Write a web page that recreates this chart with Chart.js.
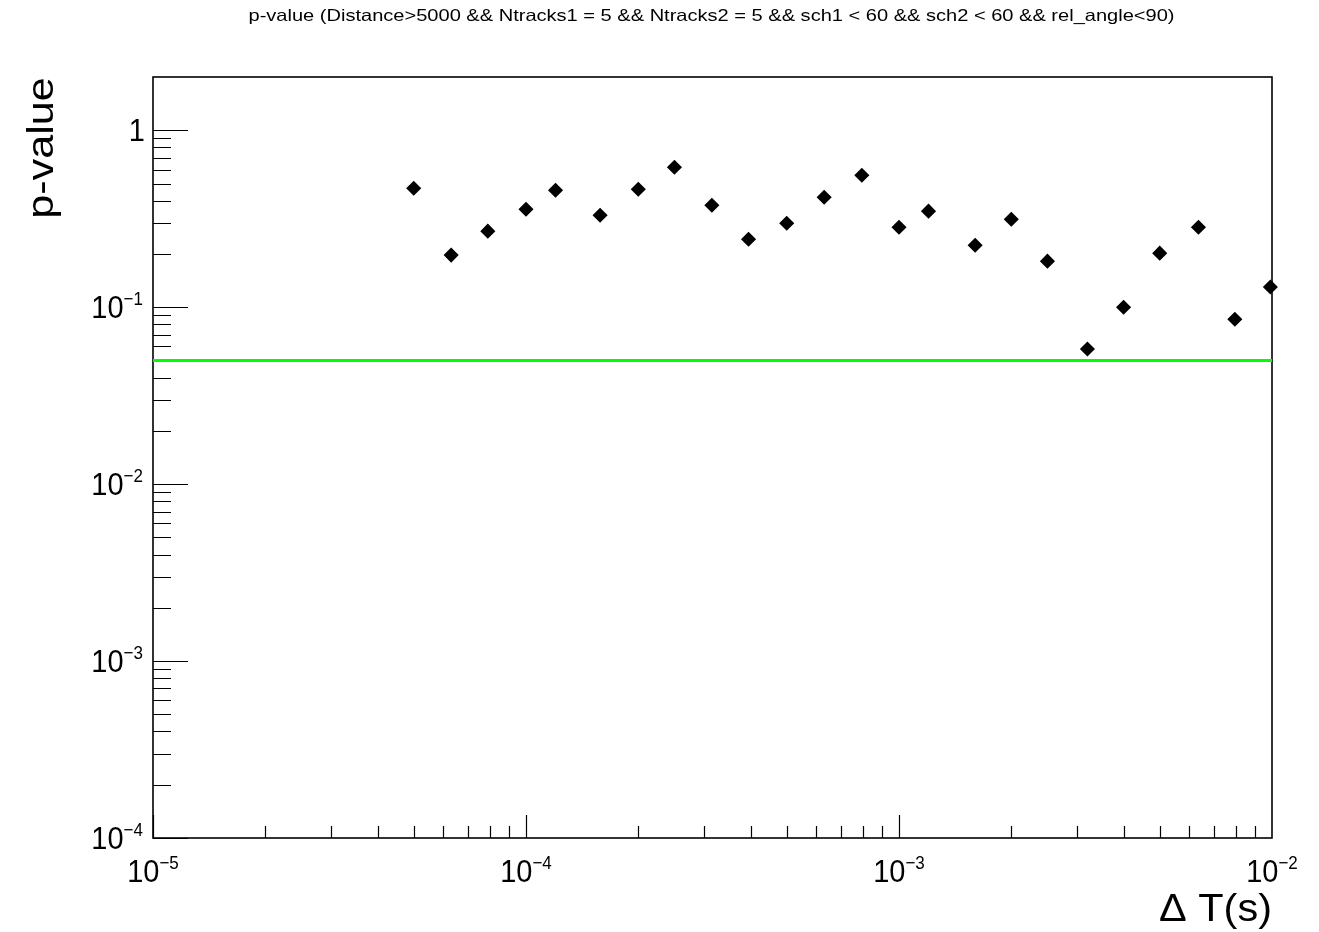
<!DOCTYPE html>
<html>
<head>
<meta charset="utf-8">
<script src="https://cdn.jsdelivr.net/npm/chart.js@4/dist/chart.umd.min.js"></script>
<style>
html,body{margin:0;padding:0;background:#fff;}
canvas{display:block;}
</style>
</head>
<body>
<canvas id="c" width="1319" height="932"></canvas>
<script>
// ---- data ----
const deltaT = [5e-5, 6.3e-5, 7.9e-5, 1e-4, 1.2e-4, 1.58e-4, 2e-4, 2.5e-4, 3.15e-4, 3.95e-4, 5e-4, 6.3e-4, 7.95e-4, 1e-3, 1.2e-3, 1.6e-3, 2e-3, 2.5e-3, 3.2e-3, 4e-3, 5e-3, 6.35e-3, 7.95e-3, 9.9e-3];
const pValues = [0.47, 0.197, 0.269, 0.358, 0.458, 0.331, 0.464, 0.618, 0.377, 0.242, 0.298, 0.418, 0.557, 0.283, 0.349, 0.224, 0.314, 0.182, 0.058, 0.100, 0.202, 0.283, 0.0855, 0.130];
const threshold = 0.05;
const xRange = [1e-5, 1e-2];
const yRange = [1e-4, 2];
const xMajorExps = [-5, -4, -3, -2];
const yMajorExps = [-4, -3, -2, -1, 0];
const titleText = "p-value (Distance>5000 && Ntracks1 = 5 && Ntracks2 = 5 && sch1 < 60 && sch2 < 60 && rel_angle<90)";
const xTitle = "\u0394 T(s)";
const yTitle = "p-value";

const FONT = '"Liberation Sans", Arial, Helvetica, sans-serif';
const SY = 1.1;

function stretchedText(ctx, text, x, y, size, align, sy) {
  ctx.save();
  ctx.font = size + 'px ' + FONT;
  ctx.textAlign = align;
  ctx.textBaseline = 'alphabetic';
  ctx.translate(x, y);
  ctx.scale(1, sy);
  ctx.fillText(text, 0, 0);
  ctx.restore();
}

function powLabel(ctx, exp, anchorX, baseY, align) {
  const mainSize = 29, supSize = 17;
  ctx.save();
  if (exp === 0) {
    ctx.font = mainSize + 'px ' + FONT;
    const w = ctx.measureText('1').width;
    let x0 = align === 'right' ? anchorX - w : anchorX - w / 2;
    stretchedText(ctx, '1', x0 + 2, baseY, mainSize, 'left', SY);
    ctx.restore();
    return;
  }
  ctx.font = mainSize + 'px ' + FONT;
  const wMain = ctx.measureText('10').width;
  const sup = '\u2212' + Math.abs(exp);
  ctx.font = supSize + 'px ' + FONT;
  const wSup = ctx.measureText(sup).width;
  const total = wMain + wSup;
  let x0 = align === 'right' ? anchorX - total : anchorX - total / 2;
  stretchedText(ctx, '10', x0, baseY, mainSize, 'left', SY);
  stretchedText(ctx, sup, x0 + wMain, baseY - 13, supSize, 'left', SY);
  ctx.restore();
}

const rootStyle = {
  id: 'rootStyle',
  beforeDatasetsDraw(chart) {
    const ctx = chart.ctx;
    const a = chart.chartArea;
    const xs = chart.scales.x, ys = chart.scales.y;
    ctx.save();
    ctx.strokeStyle = '#000';
    ctx.lineWidth = 1.2;
    ctx.beginPath();
    for (let e = -5; e <= -3; e++) {
      for (let m = 1; m <= 9; m++) {
        const v = m * Math.pow(10, e);
        if (v < xRange[0] || v > xRange[1]) continue;
        const px = Math.round(xs.getPixelForValue(v)) + 0.5;
        const len = m === 1 ? 23 : 12;
        ctx.moveTo(px, a.bottom);
        ctx.lineTo(px, a.bottom - len);
      }
    }
    for (let e = -4; e <= 0; e++) {
      for (let m = 1; m <= 9; m++) {
        const v = m * Math.pow(10, e);
        if (v < yRange[0] || v >= yRange[1]) continue;
        const py = Math.round(ys.getPixelForValue(v)) + 0.5;
        const len = m === 1 ? 35 : 18;
        ctx.moveTo(a.left, py);
        ctx.lineTo(a.left + len, py);
      }
    }
    ctx.stroke();
    ctx.lineWidth = 1.6;
    ctx.strokeRect(a.left, a.top, a.right - a.left, a.bottom - a.top);
    ctx.restore();
  },
  afterDatasetsDraw(chart) {
    const ctx = chart.ctx;
    const a = chart.chartArea;
    const xs = chart.scales.x, ys = chart.scales.y;
    ctx.save();
    ctx.fillStyle = '#000';
    xMajorExps.forEach(e => {
      const px = xs.getPixelForValue(Math.pow(10, e));
      powLabel(ctx, e, px, a.bottom + 44, 'center');
    });
    yMajorExps.forEach(e => {
      const py = ys.getPixelForValue(Math.pow(10, e));
      powLabel(ctx, e, 143, py + 11, 'right');
    });
    ctx.font = '14px ' + FONT;
    const tw = ctx.measureText(titleText).width;
    const tsize = 14 * 927 / tw;
    stretchedText(ctx, titleText, 711.5, 21, tsize, 'center', 11.5 / (0.716 * tsize));
    ctx.font = '36px ' + FONT;
    const xw = ctx.measureText(xTitle).width;
    const xsize = 36 * 113 / xw;
    stretchedText(ctx, xTitle, a.right, 921, xsize, 'right', 28 / (0.716 * xsize));
    ctx.save();
    ctx.translate(53, 148);
    ctx.rotate(-Math.PI / 2);
    ctx.font = '36px ' + FONT;
    ctx.textAlign = 'center';
    ctx.textBaseline = 'alphabetic';
    ctx.scale(1.2, 1);
    ctx.fillText(yTitle, 0, 0);
    ctx.restore();
    ctx.restore();
  }
};

new Chart(document.getElementById('c'), {
  type: 'scatter',
  data: {
    datasets: [
      {
        type: 'line',
        data: [{x: xRange[0], y: threshold}, {x: xRange[1], y: threshold}],
        borderColor: '#00ff00',
        borderWidth: 3,
        pointRadius: 0,
        fill: false,
        order: 2
      },
      {
        data: deltaT.map((x, i) => ({x: x, y: pValues[i]})),
        pointStyle: 'rectRot',
        pointRadius: 6.5,
        backgroundColor: '#000',
        borderColor: '#000',
        borderWidth: 1.5,
        clip: false,
        order: 1
      }
    ]
  },
  options: {
    responsive: false,
    animation: false,
    layout: {padding: {left: 153, top: 77, right: 47, bottom: 94}},
    plugins: {legend: {display: false}, tooltip: {enabled: false}, title: {display: false}},
    scales: {
      x: {type: 'logarithmic', min: xRange[0], max: xRange[1], display: false},
      y: {type: 'logarithmic', min: yRange[0], max: yRange[1], display: false}
    }
  },
  plugins: [rootStyle]
});
</script>
</body>
</html>
